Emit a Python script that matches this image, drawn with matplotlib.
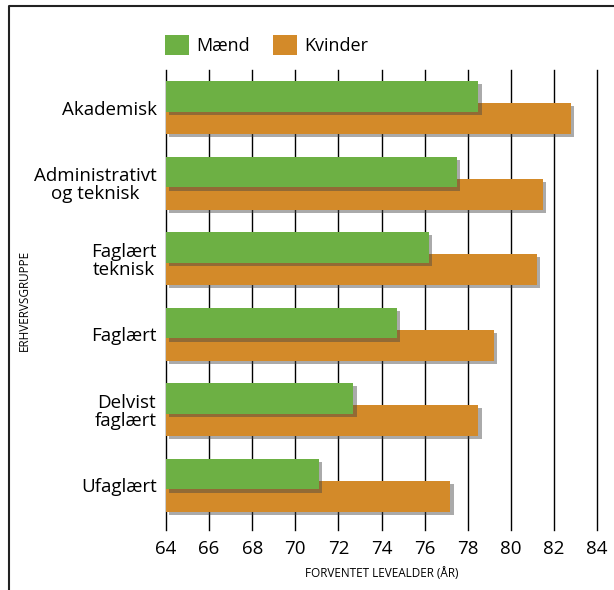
import matplotlib
matplotlib.use("Agg")
import matplotlib.pyplot as plt
import matplotlib.patheffects as pe
from matplotlib.lines import Line2D
from matplotlib.patches import Patch
import numpy as np

plt.rcParams["font.family"] = ["Open Sans", "DejaVu Sans"]

# Data
groups = ["Akademisk", "Administrativt\nog teknisk", "Faglært\nteknisk",
          "Faglært", "Delvist\nfaglært", "Ufaglært"]
maend = [78.5, 77.5, 76.2, 74.7, 72.7, 71.1]
kvinder = [82.8, 81.5, 81.2, 79.2, 78.5, 77.2]
xticks = [64, 66, 68, 70, 72, 74, 76, 78, 80, 82, 84]

GREEN = "#6db044"
ORANGE = "#d38a29"

W, H = 614, 590
fig = plt.figure(figsize=(W / 100, H / 100), dpi=100)

# axes placed in pixel terms
left, right, top, bottom = 166, 597, 70, 530
ax = fig.add_axes([left / W, 1 - bottom / H, (right - left) / W, (bottom - top) / H])

y = np.arange(len(groups))
bh = 0.41
off = 0.146
shadow = [pe.SimplePatchShadow(offset=(2.2, -2.2), shadow_rgbFace="#444444", alpha=0.45),
          pe.Normal()]

base = xticks[0]
ax.barh(y + off, np.array(kvinder) - base, left=base, height=bh, color=ORANGE,
        zorder=2, path_effects=shadow)
ax.barh(y - off, np.array(maend) - base, left=base, height=bh, color=GREEN,
        zorder=3, path_effects=shadow)

for xv in xticks:
    ax.axvline(xv, color="black", linewidth=1.0, zorder=1, clip_on=False)

ax.set_xlim(64, 84)
ax.set_ylim(5.596, -0.497)
ax.set_xticks(xticks)
ax.set_xticklabels([str(v) for v in xticks], fontsize=13.5)
ax.set_yticks(y)
ax.set_yticklabels(groups, fontsize=13.5, linespacing=1.0)
ax.tick_params(axis="both", length=0)
ax.tick_params(axis="x", pad=7)
ax.tick_params(axis="y", pad=6.5)
for lab in ax.get_yticklabels():
    lab.set_horizontalalignment("right")
    lab.set_multialignment("center")
for s in ax.spines.values():
    s.set_visible(False)

ax.set_xlabel("FORVENTET LEVEALDER (ÅR)", fontsize=8.5, labelpad=7)
fig.text(24 / W, 1 - 300 / H, "ERHVERVSGRUPPE", rotation=90, fontsize=8.5,
         ha="center", va="center")

# legend
handles = [Patch(facecolor=GREEN, label="Mænd"), Patch(facecolor=ORANGE, label="Kvinder")]
fig.legend(handles=handles, loc="center left", bbox_to_anchor=(151 / W, 1 - 45 / H),
           ncol=2, frameon=False, fontsize=13, handlelength=1.3, handleheight=1.3,
           handletextpad=0.4, columnspacing=1.3, borderpad=0.3)

# frame lines (left and top)
fig.add_artist(Line2D([9 / W, 9 / W, 1], [0, 1 - 6 / H, 1 - 6 / H],
                      transform=fig.transFigure, color="#222222", linewidth=1.5))

fig.savefig("out.png", dpi=100)
